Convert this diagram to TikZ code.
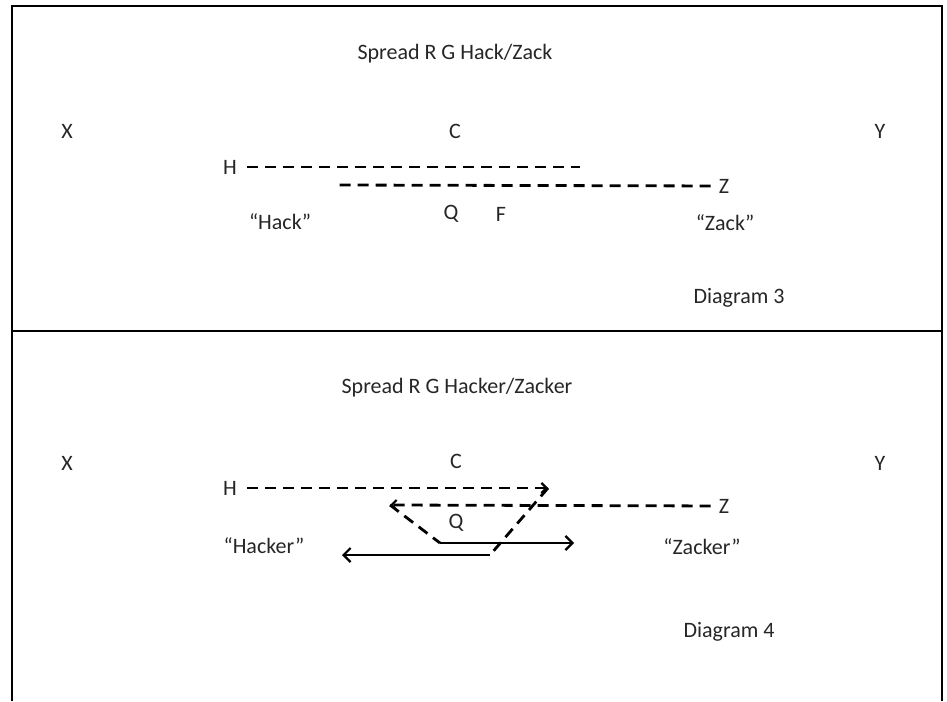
\documentclass[tikz,border=0pt]{standalone}
\usepackage{fontspec}
\setmainfont{Carlito}
\usetikzlibrary{arrows.meta}

\tikzset{
  route/.style={line width=2.8pt, dash pattern=on 11pt off 7pt},
  run/.style={line width=2.2pt, -{Straight Barb[length=7pt, width=14pt, line width=2.2pt]}},
  turn/.style={-{Straight Barb[length=5pt, width=10pt, line width=2.2pt]}},
  lbl/.style={inner sep=3pt, text=black!85}
}

\begin{document}
\begin{tikzpicture}[x=1pt, y=-1pt, font=\fontsize{22}{26}\selectfont]
    \useasboundingbox (0, 0) rectangle (947, 701);
    \draw [line width=2pt] (12, 701) -- (12, 6) -- (942, 6) -- (942, 701);
    \draw [line width=2pt] (12, 331) -- (942, 331);

    \node [lbl] (title3) at (455, 54) {Spread R G Hack/Zack};
    \node [lbl] (x3) at (67, 131) {X};
    \node [lbl] (c3) at (455, 131) {C};
    \node [lbl] (y3) at (880, 131) {Y};
    \node [lbl] (h3) at (230, 167) {H};
    \node [lbl] (z3) at (724, 186) {Z};
    \node [lbl] (q3) at (451, 214) {Q};
    \node [lbl] (f3) at (501, 214) {F};
    \node [lbl] (hack) at (280, 222) {“Hack”};
    \node [lbl] (zack) at (725, 223) {“Zack”};
    \node [lbl] (diag3) at (739, 298) {Diagram 3};

    \coordinate (h3end) at (580, 167);
    \coordinate (z3end) at (338, 185);
    \draw [route, shorten <=7pt] (h3) -- (h3end);
    \draw [route, shorten <=5pt] (z3) -- (z3end);

    \node [lbl] (title4) at (457, 388) {Spread R G Hacker/Zacker};
    \node [lbl] (x4) at (67, 463) {X};
    \node [lbl] (c4) at (456, 461) {C};
    \node [lbl] (y4) at (880, 463) {Y};
    \node [lbl] (h4) at (230, 488) {H};
    \node [lbl] (z4) at (724, 506) {Z};
    \node [lbl] (q4) at (456, 523) {Q};
    \node [lbl] (hacker) at (264, 546) {“Hacker”};
    \node [lbl] (zacker) at (702, 547) {“Zacker”};
    \node [lbl] (diag4) at (729, 632) {Diagram 4};

    \coordinate (hturn) at (548, 488);
    \coordinate (hcut) at (490, 555);
    \coordinate (hend) at (342, 555);
    \coordinate (zturn) at (390, 505);
    \coordinate (zcut) at (440, 543);
    \coordinate (zend) at (574, 543);

    \draw [route, turn, shorten <=7pt] (h4) -- (hturn);
    \draw [route] (hturn) -- (hcut);
    \draw [run] (hcut) -- (hend);
    \draw [route, turn, shorten <=5pt] (z4) -- (zturn);
    \draw [route] (zturn) -- (zcut);
    \draw [run] (zcut) -- (zend);
\end{tikzpicture}
\end{document}
